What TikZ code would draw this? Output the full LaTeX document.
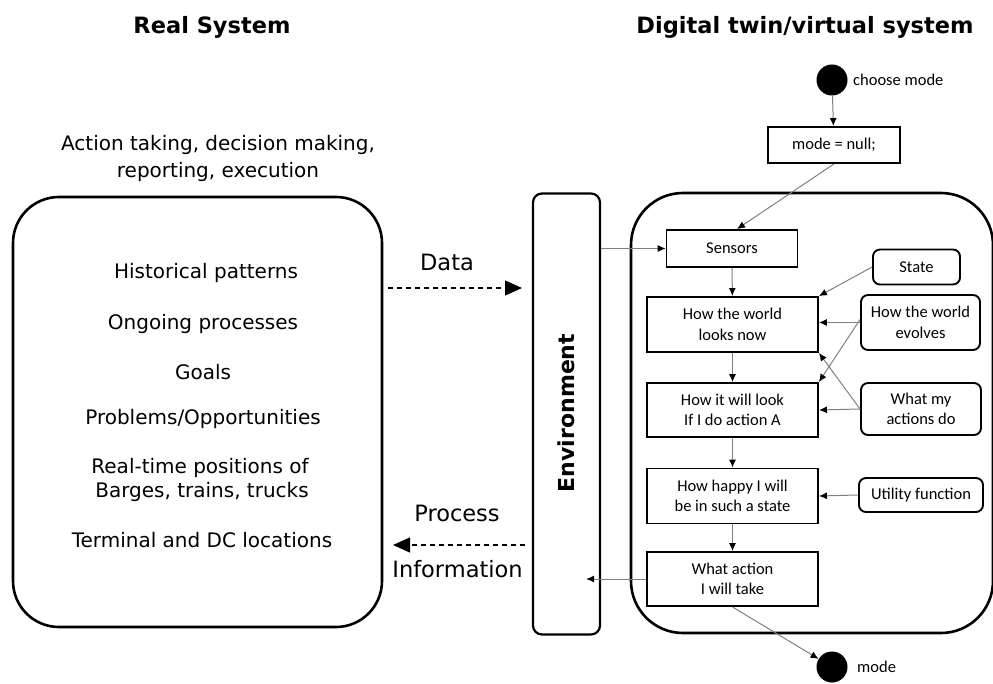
\documentclass[tikz,border=0pt]{standalone}
\usepackage{fontspec}
\setmainfont{DejaVu Sans}
\newfontfamily\boxfont{Carlito}
\usetikzlibrary{arrows.meta,calc}

\tikzset{
  title/.style={font=\bfseries\fontsize{22.5}{27}\selectfont},
  plain/.style={font=\fontsize{20}{24}\selectfont, inner sep=0pt},
  flowlabel/.style={font=\fontsize{22.5}{27}\selectfont, inner sep=0pt},
  frame/.style={draw, line width=2.6pt, rounded corners=46pt},
  envbox/.style={draw, line width=2.2pt, rounded corners=9pt},
  stepbox/.style={draw, line width=1.9pt, align=center, inner sep=0pt,
    font=\boxfont\fontsize{16.5}{20.5}\selectfont},
  sidebox/.style={stepbox, rounded corners=7pt},
  dot/.style={circle, fill=black, inner sep=0pt, minimum size=31pt},
  link/.style={draw=black!50, line width=1pt, -{Latex[length=8pt,width=7pt,color=black]}},
  bigflow/.style={dashed, line width=1.2pt, dash pattern=on 5pt off 4pt,
    -{Triangle[length=17pt,width=15pt]}},
}

\begin{document}
\begin{tikzpicture}[x=1pt,y=-1pt]
\useasboundingbox (0,0) rectangle (993,684);

% headings
\node[title] (hreal) at (212,27) {Real System};
\node[title] (hdigital) at (805,27) {Digital twin/virtual system};

% real system
\node[plain, align=center, font=\fontsize{20}{27}\selectfont] (duty) at (218,158)
  {Action taking, decision making,\\reporting, execution};
\node[frame, minimum width=369pt, minimum height=430pt] (real) at (197.5,412) {};
\node[plain] (t1) at (206,273) {Historical patterns};
\node[plain] (t2) at (203,324) {Ongoing processes};
\node[plain] (t3) at (203,372) {Goals};
\node[plain] (t4) at (203,419) {Problems/Opportunities};
\node[plain] (t5) at (200,468) {Real-time positions of};
\node[plain] (t6) at (202,492) {Barges, trains, trucks};
\node[plain] (t7) at (202,540) {Terminal and DC locations};

% environment
\node[envbox, minimum width=67pt, minimum height=441pt] (env) at (566.5,414) {};
\node[font=\bfseries\fontsize{22}{26}\selectfont, rotate=90] (envtext) at (566,413) {Environment};

% data exchange
\coordinate (dataS) at (388,288);
\coordinate (dataE) at (522,288);
\draw[bigflow] (dataS) -- (dataE);
\node[flowlabel] (datal) at (447,262) {Data};
\coordinate (procS) at (525,545);
\coordinate (procE) at (393,545);
\draw[bigflow] (procS) -- (procE);
\node[flowlabel] (procl) at (457,513) {Process};
\node[flowlabel] (infol) at (457.5,569) {Information};

% digital twin
\node[frame, minimum width=362pt, minimum height=440pt, rounded corners=52pt] (twin) at (812,413) {};
\node[dot] (start) at (832,80) {};
\node[font=\boxfont\fontsize{16.5}{19}\selectfont, anchor=west, inner sep=0pt] (startl) at (853,80) {choose mode};
\node[stepbox, minimum width=132pt, minimum height=36pt] (init) at (834,145) {mode = null;};

\node[stepbox, minimum width=131pt, minimum height=37pt] (sensors) at (732,248.5) {Sensors};
\node[stepbox, minimum width=171pt, minimum height=55pt] (now) at (732.5,324.5) {How the world\\looks now};
\node[stepbox, minimum width=171pt, minimum height=54pt] (ifa) at (732.5,410) {How it will look\\If I do action A};
\node[stepbox, minimum width=171pt, minimum height=55pt] (happy) at (732.5,496) {How happy I will\\be in such a state};
\node[stepbox, minimum width=171pt, minimum height=54pt] (act) at (732.5,579) {What action\\I will take};

\node[sidebox, minimum width=87pt, minimum height=35pt] (state) at (916.5,267) {State};
\node[sidebox, minimum width=119pt, minimum height=55pt] (evolve) at (920.5,322.5) {How the world\\evolves};
\node[sidebox, minimum width=120pt, minimum height=52pt] (mine) at (921,409) {What my\\actions do};
\node[sidebox, minimum width=124pt, minimum height=34pt] (util) at (921,495) {Utility function};

\node[dot] (finish) at (832,667) {};
\node[font=\boxfont\fontsize{16.5}{19}\selectfont, anchor=west, inner sep=0pt] (finishl) at (857,667) {mode};

% connectors
\draw[link] (start) -- (init);
\draw[link] (init.south) -- ([xshift=5pt]sensors.north);
\draw[link] (env.east |- sensors.west) -- (sensors.west);
\draw[link] (sensors) -- (now);
\draw[link] (now) -- (ifa);
\draw[link] (ifa) -- (happy);
\draw[link] (happy) -- (act);
\draw[link] (state.west) -- (now.north east);
\draw[link] (evolve.west) -- (evolve.west -| now.east);
\draw[link] ([yshift=3pt]evolve.west) -- (ifa.north east);
\draw[link] (mine.west) -- (now.south east);
\draw[link] (mine.west) -- (ifa.east);
\draw[link] (util.west) -- (happy.east);
\draw[link] (act.west) -- ($(act.west -| env.east)+(-15,0)$);
\draw[link] (act.south) -- (finish);
\end{tikzpicture}
\end{document}
